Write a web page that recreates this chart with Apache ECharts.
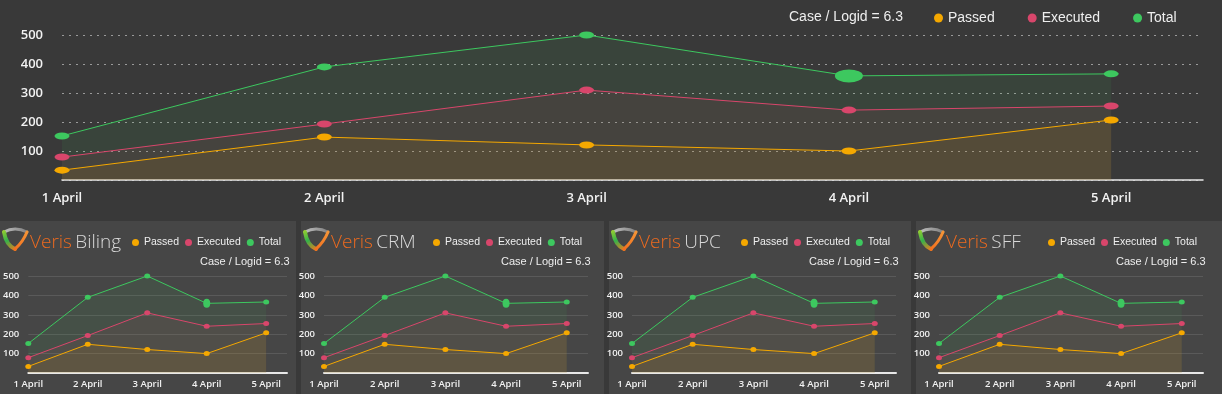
<!DOCTYPE html>
<html>
<head>
<meta charset="utf-8">
<script src="https://cdn.jsdelivr.net/npm/echarts@6/dist/echarts.min.js"></script>
<style>
html,body{margin:0;padding:0;background:#393939;}
#c{width:1222px;height:394px;}
</style>
</head>
<body>
<div id="c"></div>
<script>
// ---- data ----
const categories = ['1 April', '2 April', '3 April', '4 April', '5 April'];
const passed = [34, 148, 121, 100, 207];
const executed = [79, 193, 310, 241, 255];
const total = [152, 390, 500, 359, 366];
const seriesNames = ['Passed', 'Executed', 'Total'];
const highlightIndex = 3; // enlarged Total marker on 4 April
const caseText = 'Case / Logid = 6.3';
const brand = 'Veris';
const panelNames = ['Biling', 'CRM', 'UPC', 'SFF'];

// ---- style ----
const colors = { Passed: '#f5a800', Executed: '#d8466b', Total: '#3dc85f' };
const areaColors = { Passed: 'rgba(245,168,0,0.13)', Executed: 'rgba(216,70,107,0.11)', Total: 'rgba(61,200,95,0.11)' };
const valuesByName = { Passed: passed, Executed: executed, Total: total };

const panels = [
  { x: 0, w: 296 },
  { x: 301, w: 303 },
  { x: 609, w: 302 },
  { x: 916, w: 306 }
];

const chart = echarts.init(document.getElementById('c'));

const grids = [], xAxes = [], yAxes = [], series = [], legends = [], graphics = [], titles = [];

function catFormatter(v) {
  return Number.isInteger(v) && categories[v] !== undefined ? categories[v] : '';
}

function addChart(gi, grid, big) {
  grids.push(grid);
  xAxes.push({
    type: 'value', gridIndex: gi, min: 0, max: 4.35, interval: 1,
    axisLine: { show: true, lineStyle: { color: '#e8e8e8', width: big ? 1.5 : 2 } },
    axisTick: { show: false },
    splitLine: { show: false },
    axisLabel: {
      formatter: catFormatter, color: '#f2f2f2',
      fontFamily: 'Open Sans', fontWeight: 600, fontSize: big ? 13 : 9.5,
      margin: big ? 12 : 6, showMaxLabel: false
    }
  });
  yAxes.push({
    type: 'value', gridIndex: gi, min: 0, max: 500, interval: 100,
    axisLine: { show: false }, axisTick: { show: false },
    splitLine: big
      ? { show: true, lineStyle: { color: '#9a9a9a', type: [2, 5], width: 1 } }
      : { show: true, lineStyle: { color: '#5a5a5a', type: 'solid', width: 1 } },
    axisLabel: {
      formatter: v => v === 0 ? '' : String(v), color: '#f2f2f2',
      fontFamily: 'Open Sans', fontWeight: 600, fontSize: big ? 13 : 9.5,
      margin: big ? 19 : 9
    }
  });
  seriesNames.forEach((name, si) => {
    const vals = valuesByName[name];
    series.push({
      name, type: 'line', xAxisIndex: gi, yAxisIndex: gi,
      data: vals.map((v, i) => {
        const item = { value: [i, v] };
        if (name === 'Total' && i === highlightIndex) item.symbolSize = big ? [28, 13] : [7, 9];
        return item;
      }),
      symbol: 'circle',
      symbolSize: big ? [15, 7] : [6, 5],
      showSymbol: true,
      lineStyle: { color: colors[name], width: 1 },
      itemStyle: { color: colors[name] },
      areaStyle: { color: areaColors[name] },
      z: 3 + (2 - si),
      animation: false
    });
  });
}

// top chart
addChart(0, { left: 62, width: 1141, top: 35, height: 145 }, true);
legends.push({
  left: 929, top: 6, itemGap: 33, itemWidth: 9, itemHeight: 9, icon: 'circle',
  data: seriesNames.map(n => ({ name: n, itemStyle: { color: colors[n] } })),
  textStyle: { color: '#eeeeee', fontFamily: 'Liberation Sans', fontSize: 14 },
  selectedMode: false
});
titles.push({
  text: caseText, left: 784, top: 5,
  textStyle: { color: '#eeeeee', fontFamily: 'Liberation Sans', fontSize: 14, fontWeight: 'normal' }
});

// panels
panels.forEach((p, k) => {
  graphics.push({
    type: 'rect', z: -1, silent: true,
    shape: { x: p.x, y: 221, width: p.w, height: 173 },
    style: { fill: '#464646' }
  });
  addChart(k + 1, { left: p.x + 23, width: 264, top: 276, height: 97 }, false);
  legends.push({
    left: p.x + 127, top: 232, itemGap: 6, itemWidth: 7, itemHeight: 7, icon: 'circle',
    data: seriesNames.map(n => ({ name: n, itemStyle: { color: colors[n] } })),
    textStyle: { color: '#eeeeee', fontFamily: 'Liberation Sans', fontSize: 10.5 },
    selectedMode: false
  });
  titles.push({
    text: caseText, left: p.x + 195, top: 251,
    textStyle: { color: '#eeeeee', fontFamily: 'Liberation Sans', fontSize: 11, fontWeight: 'normal' }
  });
  // logo (swoosh made of three curves)
  const ox = p.x + 1, oy = 227;
  graphics.push({
    type: 'bezierCurve', silent: true, z: 10,
    shape: { x1: ox + 3, y1: oy + 5, cpx1: ox + 14, cpy1: oy - 1, x2: ox + 26, y2: oy + 5 },
    style: { fill: null, stroke: { type: 'linear', x: 0, y: 0, x2: 1, y2: 0, colorStops: [{ offset: 0, color: '#c4c4c4' }, { offset: 1, color: '#7a7a7a' }] }, lineWidth: 3, lineCap: 'round' }
  });
  graphics.push({
    type: 'bezierCurve', silent: true, z: 10,
    shape: { x1: ox + 3, y1: oy + 5, cpx1: ox + 5, cpy1: oy + 18, x2: ox + 14, y2: oy + 22 },
    style: { fill: null, stroke: { type: 'linear', x: 0, y: 0, x2: 0.7, y2: 1, colorStops: [{ offset: 0, color: '#a6d22a' }, { offset: 0.5, color: '#34b24a' }, { offset: 1, color: '#f07a1e' }] }, lineWidth: 4, lineCap: 'round' }
  });
  graphics.push({
    type: 'bezierCurve', silent: true, z: 10,
    shape: { x1: ox + 14, y1: oy + 22, cpx1: ox + 22, cpy1: oy + 15, x2: ox + 26, y2: oy + 5 },
    style: { fill: null, stroke: { type: 'linear', x: 0, y: 1, x2: 1, y2: 0, colorStops: [{ offset: 0, color: '#f26a1b' }, { offset: 1, color: '#f59a3a' }] }, lineWidth: 3, lineCap: 'round' }
  });
  graphics.push({
    type: 'text', x: p.x + 30, y: 243, silent: true, z: 10,
    style: {
      text: '{a|' + brand + '} {b|' + panelNames[k] + '}',
      verticalAlign: 'middle',
      rich: {
        a: { fill: '#ec6a1f', fontFamily: 'Open Sans', fontWeight: 300, fontSize: 19 },
        b: { fill: '#d9d9d9', fontFamily: 'Open Sans', fontWeight: 300, fontSize: 19 }
      }
    }
  });
});

chart.setOption({
  backgroundColor: '#393939',
  animation: false,
  title: titles,
  legend: legends,
  grid: grids,
  xAxis: xAxes,
  yAxis: yAxes,
  series,
  graphic: graphics
});
</script>
</body>
</html>
